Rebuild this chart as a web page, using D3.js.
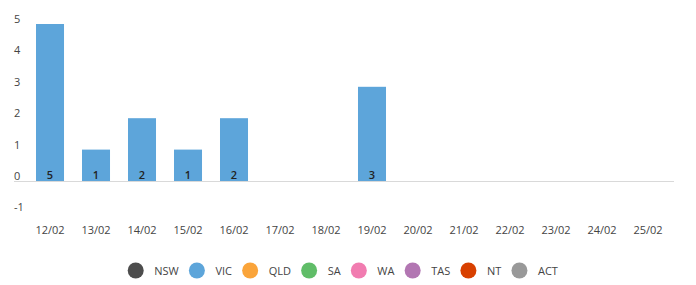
<!DOCTYPE html>
<html><head><meta charset="utf-8">
<script src="https://cdn.jsdelivr.net/npm/d3@7"></script>
<style>body{margin:0;background:#fff}svg{display:block;font-family:"Open Sans",sans-serif}</style>
</head><body><svg id="c" width="696" height="285"></svg>
<script>
const categories = ["12/02","13/02","14/02","15/02","16/02","17/02","18/02","19/02","20/02","21/02","22/02","23/02","24/02","25/02"];
const vicValues = [5,1,2,1,2,0,0,3,0,0,0,0,0,0];
const yTicks = [-1,0,1,2,3,4,5];
const legendNames = ["NSW","VIC","QLD","SA","WA","TAS","NT","ACT"];
const legendColors = ["#4d4d4d","#5da5da","#faa43a","#60bd68","#f17cb0","#b276b2","#d84000","#999999"];

const svg = d3.select("#c");
const x = d3.scaleBand().domain(categories).range([27,671]).paddingInner(0.391).paddingOuter(0.1957);
const y = d3.scaleLinear().domain([0,5]).range([181,24]);
const barData = vicValues.map((v,i)=>({c:categories[i],v})).filter(d=>d.v>0);

// y labels
svg.append("g").selectAll("text").data(yTicks).join("text")
  .attr("x",14).attr("y",d=>y(d)-1).attr("font-size",11).attr("fill","#444")
  .text(d=>d);

// bars
svg.append("g").selectAll("rect").data(barData)
  .join("rect").attr("x",d=>x(d.c)).attr("width",x.bandwidth())
  .attr("y",d=>y(d.v)).attr("height",d=>y(0)-y(d.v)).attr("fill","#5da5da");

// zero line
svg.append("line").attr("x1",14).attr("x2",674).attr("y1",y(0)+0.5).attr("y2",y(0)+0.5)
  .attr("stroke","#d9d9d9").attr("stroke-width",1);

// data labels
svg.append("g").selectAll("text").data(barData)
  .join("text").attr("x",d=>x(d.c)+x.bandwidth()/2).attr("y",y(0)-2)
  .attr("text-anchor","middle").attr("font-size",11).attr("font-weight",600).attr("fill","#222")
  .text(d=>d.v);

// x labels
svg.append("g").selectAll("text").data(categories).join("text")
  .attr("x",d=>x(d)+x.bandwidth()/2).attr("y",234).attr("text-anchor","middle")
  .attr("font-size",11).attr("fill","#444").text(d=>d);

// legend
const lg = svg.append("g");
let cx = 135.7;
legendNames.forEach((n,i)=>{
  lg.append("circle").attr("cx",cx).attr("cy",270.5).attr("r",8).attr("fill",legendColors[i]);
  const t = lg.append("text").attr("x",cx+18.5).attr("y",274.5).attr("font-size",11).attr("fill","#444").text(n);
  const w = t.node().getComputedTextLength();
  cx = cx + 18.5 + w + 18.2;
});
</script></body></html>
